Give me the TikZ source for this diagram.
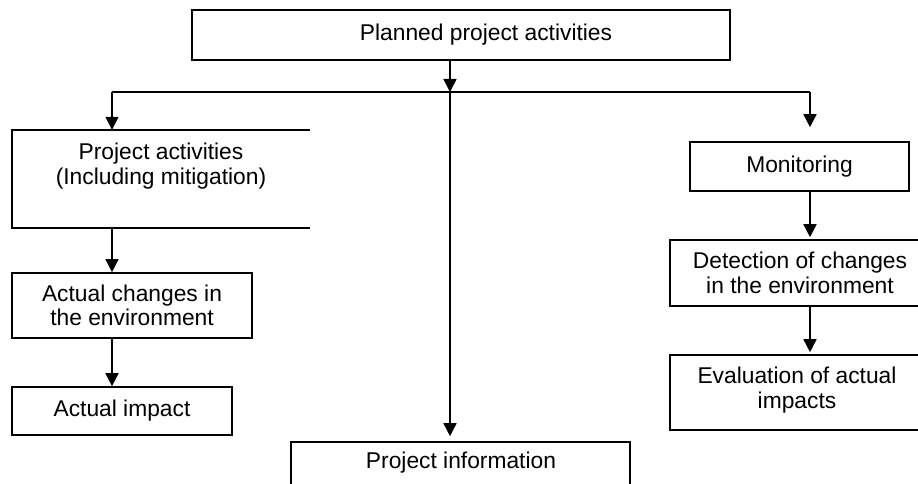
\documentclass[tikz,border=0pt]{standalone}
\usepackage{fontspec}
\setmainfont{Liberation Sans}
\usetikzlibrary{arrows.meta,positioning}
\begin{document}
\begin{tikzpicture}[x=1pt,y=-1pt,
  lw/.style={line width=1.6pt},
  frame/.style={draw,lw,inner sep=0pt},
  txt/.style={inner sep=0pt,align=center,font=\fontsize{22.8}{24.5}\selectfont},
  arr/.style={lw,-{Triangle[width=13pt,length=13pt]}}]
\useasboundingbox (0,0) rectangle (918,484);
% boxes (frames)
\node[frame,minimum width=538,minimum height=50] (top) at (461,35) {};
\node[txt] (topt) at (486,35) {Planned project activities};
\node[inner sep=0pt,minimum width=298,minimum height=98] (b1) at (161,179) {};
\draw[lw] (b1.north east) -- (b1.north west) -- (b1.south west) -- (b1.south east);
\node[txt] (b1t) at (161,166) {Project activities\\(Including mitigation)};
\node[frame,txt,minimum width=240,minimum height=65] (b2) at (132,305.5) {Actual changes in\\the environment};
\node[frame,txt,minimum width=220,minimum height=48] (b3) at (122,411) {Actual impact};
\node[frame,txt,minimum width=219,minimum height=49] (mon) at (799.5,166.5) {Monitoring};
\node[frame,txt,minimum width=260,minimum height=66] (det) at (800,273) {Detection of changes\\in the environment};
\node[frame,minimum width=260,minimum height=75] (eva) at (800,392.5) {};
\node[txt] (evat) at (797,390) {Evaluation of actual\\impacts};
\node[frame,minimum width=339,minimum height=60] (info) at (460.5,472) {};
\node[txt] (infot) at (461,463) {Project information};
% junction line
\coordinate (j) at (450,92);
\coordinate (jl) at (112,92);
\coordinate (jr) at (810,92);
\draw[arr] (top.south -| j) -- (j);
\draw[lw] (jl) -- (jr);
\draw[arr] (jl) -- (b1.north -| jl);
\draw[arr,shorten >=14pt] (jr) -- (mon.north -| jr);
\draw[arr,shorten >=5pt] (j) -- (info.north -| j);
\draw[arr] (b1.south -| jl) -- (b2.north -| jl);
\draw[arr] (b2.south -| jl) -- (b3.north -| jl);
\draw[arr,shorten >=2pt] (mon.south -| jr) -- (det.north -| jr);
\draw[arr,shorten >=2pt] (det.south -| jr) -- (eva.north -| jr);
\end{tikzpicture}
\end{document}
